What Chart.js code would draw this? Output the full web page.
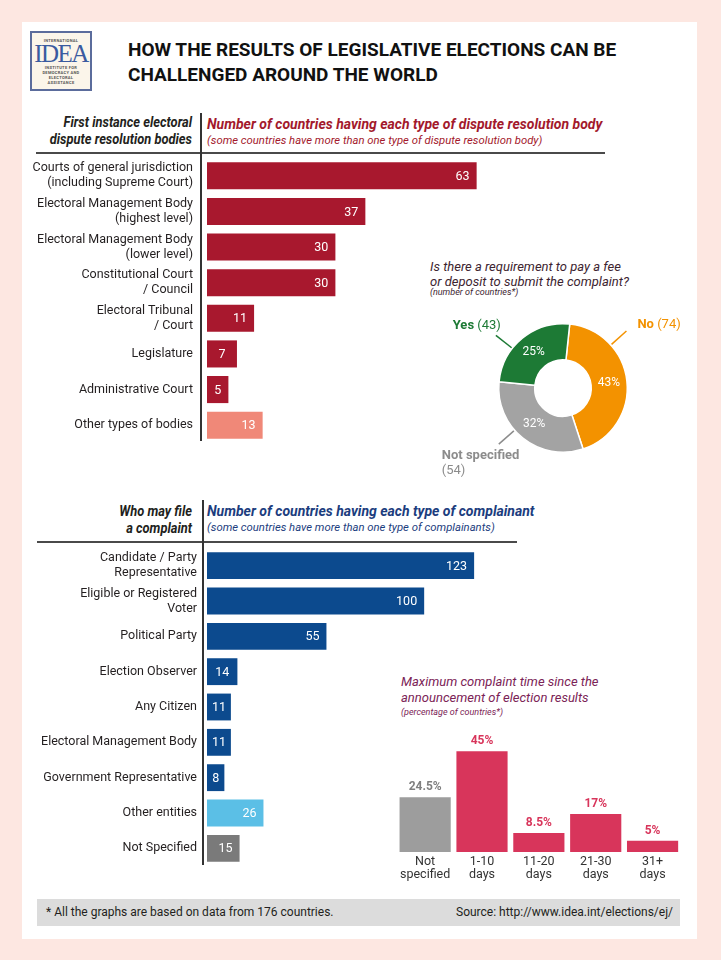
<!DOCTYPE html>
<html>
<head>
<meta charset="utf-8">
<script src="https://cdn.jsdelivr.net/npm/chart.js@4.4.1/dist/chart.umd.min.js"></script>
<style>
  html, body { margin: 0; padding: 0; }
  body { width: 721px; height: 960px; background: #fde7e1; position: relative; overflow: hidden;
         font-family: Roboto, sans-serif; color: #231f20; }
  .abs { position: absolute; }
  #card { left: 22px; top: 22px; width: 675px; height: 917px; background: #fff; }
  #logo { left: 30px; top: 31px; width: 58px; height: 56px; border: 2px solid #5b6c9c; background: #fbf5ea;
          text-align: center; color: #3a5ba0; }
  #logo .tiny { font-size: 4px; line-height: 5px; font-weight: bold; letter-spacing: 0.3px; color: #555; }
  #logo .big { font-family: 'Liberation Serif', serif; font-size: 25px; line-height: 22px; letter-spacing: -1.5px; }
  #title { left: 128px; top: 37px; font-size: 19px; line-height: 25px; font-weight: bold; color: #111; }
  .hdrL { text-align: right; font-weight: bold; font-style: italic; font-size: 14px; line-height: 17px; color: #231f20;
          transform: scaleX(0.92); transform-origin: right center; }
  .hdrT { font-weight: bold; font-style: italic; font-size: 14px; line-height: 17px; }
  .hdrS { font-style: italic; font-size: 11.3px; line-height: 14px; }
  .rule { background: #4a4a4a; height: 2px; }
  .vline { background: #333; width: 1.5px; }
  .box { position: absolute; }
  #footer { left: 37px; top: 899px; width: 643px; height: 27px; background: #dcdcdc; font-size: 12px; line-height: 27px; }
</style>
</head>
<body>
<div id="card" class="abs"></div>
<div id="logo" class="abs">
  <div class="tiny" style="margin-top:5px">INTERNATIONAL</div>
  <div class="big">IDEA</div>
  <div class="tiny">INSTITUTE FOR<br>DEMOCRACY AND<br>ELECTORAL<br>ASSISTANCE</div>
</div>
<div id="title" class="abs">HOW THE RESULTS OF LEGISLATIVE ELECTIONS CAN BE<br>CHALLENGED AROUND THE WORLD</div>

<!-- section 1 header -->
<div class="abs hdrL" style="left:0;width:192px;top:114px">First instance electoral<br>dispute resolution bodies</div>
<div class="abs hdrT" style="left:207px;top:116px;color:#a3192c">Number of countries having each type of dispute resolution body</div>
<div class="abs hdrS" style="left:207px;top:134px;color:#a3192c">(some countries have more than one type of dispute resolution body)</div>
<div class="abs rule" style="left:36px;top:152px;width:569px"></div>
<div class="abs vline" style="left:200px;top:113px;height:328px"></div>

<!-- section 2 header -->
<div class="abs hdrL" style="left:0;width:192px;top:503px">Who may file<br>a complaint</div>
<div class="abs hdrT" style="left:207px;top:503px;color:#1c3d7e">Number of countries having each type of complainant</div>
<div class="abs hdrS" style="left:207px;top:521px;color:#1c3d7e">(some countries have more than one type of complainants)</div>
<div class="abs rule" style="left:37px;top:541px;width:480px"></div>
<div class="abs vline" style="left:202px;top:500px;height:365px"></div>

<!-- donut heading -->
<div class="abs" style="left:430px;top:259px;font-style:italic;font-size:13px;line-height:15px;color:#3d2430">Is there a requirement to pay a fee<br>or deposit to submit the complaint?</div>
<div class="abs" style="left:430px;top:287px;font-style:italic;font-size:9px;line-height:11px;color:#3d2430">(number of countries*)</div>

<!-- time heading -->
<div class="abs" style="left:401px;top:674px;font-style:italic;font-size:13px;line-height:15.5px;color:#7b2356">Maximum complaint time since the<br>announcement of election results</div>
<div class="abs" style="left:401px;top:707px;font-style:italic;font-size:9px;line-height:11px;color:#7b2356">(percentage of countries*)</div>

<div class="box" style="left:30px;top:158px;width:605px;height:285px"><canvas id="bodies"></canvas></div>
<div class="box" style="left:30px;top:548px;width:607px;height:318px"><canvas id="complainants"></canvas></div>
<div class="box" style="left:420px;top:310px;width:280px;height:170px"><canvas id="fee"></canvas></div>
<div class="box" style="left:396px;top:720px;width:285px;height:162px"><canvas id="time"></canvas></div>

<div id="footer" class="abs">
  <span style="position:absolute;left:9px">* All the graphs are based on data from 176 countries.</span>
  <span style="position:absolute;right:7px">Source: http://www.idea.int/elections/ej/</span>
</div>

<script>
'use strict';

// ---- data ----
const bodyLabels = [
    ['Courts of general jurisdiction', '(including Supreme Court)'],
    ['Electoral Management Body', '(highest level)'],
    ['Electoral Management Body', '(lower level)'],
    ['Constitutional Court', '/ Council'],
    ['Electoral Tribunal', '/ Court'],
    'Legislature',
    'Administrative Court',
    'Other types of bodies'
];
const bodyCounts = [63, 37, 30, 30, 11, 7, 5, 13];

const complainantLabels = [
    ['Candidate / Party', 'Representative'],
    ['Eligible or Registered', 'Voter'],
    'Political Party',
    'Election Observer',
    'Any Citizen',
    'Electoral Management Body',
    'Government Representative',
    'Other entities',
    'Not Specified'
];
const complainantCounts = [123, 100, 55, 14, 11, 11, 8, 26, 15];

const feeLabels = ['No', 'Not specified', 'Yes'];
const feeCounts = [74, 54, 43];

const timeLabels = [['Not', 'specified'], ['1-10', 'days'], ['11-20', 'days'], ['21-30', 'days'], ['31+', 'days']];
const timeShares = [24.5, 45, 8.5, 17, 5];

// ---- styles ----
const RED = '#a8182e', NAVY = '#0c4a8e', CRIMSON = '#d8355b', GREY = '#9d9d9d';
const bodyColors = [RED, RED, RED, RED, RED, RED, RED, '#f08878'];
const complainantColors = [NAVY, NAVY, NAVY, NAVY, NAVY, NAVY, NAVY, '#5bbfe6', '#7a7a7a'];
const feeColors = ['#f39200', '#a3a3a3', '#1d7a35'];
const timeColors = [GREY, CRIMSON, CRIMSON, CRIMSON, CRIMSON];
const timeTextColors = ['#7f7f7f', CRIMSON, CRIMSON, CRIMSON, CRIMSON];
const LABEL_FONT = "Roboto, sans-serif";

// white number inside each horizontal bar
const barValueLabels = {
    id: 'barValueLabels',
    afterDatasetsDraw(chart) {
        const ctx = chart.ctx;
        const meta = chart.getDatasetMeta(0);
        const data = chart.data.datasets[0].data;
        ctx.save();
        ctx.font = '12.5px ' + LABEL_FONT;
        ctx.fillStyle = '#fff';
        ctx.textBaseline = 'middle';
        meta.data.forEach((bar, i) => {
            let w = bar.x - bar.base;
            if (w < 32) {
                ctx.textAlign = 'center';
                ctx.fillText(data[i], (bar.x + bar.base) / 2, bar.y + 1);
            } else {
                ctx.textAlign = 'right';
                ctx.fillText(data[i], bar.x - 7, bar.y + 1);
            }
        });
        ctx.restore();
    }
};

function hbar(id, labels, values, colors, xmax, pad) {
    return new Chart(id, {
        type: 'bar',
        data: {
            labels: labels,
            datasets: [{ data: values, backgroundColor: colors, barPercentage: 0.76, categoryPercentage: 1 }]
        },
        options: {
            indexAxis: 'y',
            responsive: true,
            maintainAspectRatio: false,
            animation: false,
            layout: { autoPadding: false, padding: 0 },
            plugins: { legend: { display: false }, tooltip: { enabled: false } },
            scales: {
                x: { display: false, min: 0, max: xmax },
                y: {
                    grid: { display: false, drawTicks: false },
                    border: { display: false },
                    afterFit(scale) {
                        scale.width = 177;
                        scale.paddingTop = 0;
                        scale.paddingBottom = 0;
                    },
                    ticks: { color: '#231f20', padding: pad, font: { family: LABEL_FONT, size: 12.5, lineHeight: 1.2 } }
                }
            }
        },
        plugins: [barValueLabels]
    });
}

hbar('bodies', bodyLabels, bodyCounts, bodyColors, 100, 14);
hbar('complainants', complainantLabels, complainantCounts, complainantColors, 198, 10);

// percentages and callouts around the doughnut
const feeCallouts = [
    { at: 0.27, color: '#f39200', side: 'left', dx: 11, dy: -6 },
    { at: 0.59, color: '#8c8c8c', side: 'left', dx: -57, dy: 12, wrap: true },
    { at: 0.36, color: '#1d7a35', side: 'right', dx: 5, dy: -10 }
];

const donutLabels = {
    id: 'donutLabels',
    afterDatasetsDraw(chart) {
        const ctx = chart.ctx;
        const meta = chart.getDatasetMeta(0);
        const data = chart.data.datasets[0].data;
        const total = data.reduce((a, b) => a + b, 0);
        ctx.save();
        meta.data.forEach((arc, i) => {
            let p = arc.tooltipPosition();
            ctx.font = '12px ' + LABEL_FONT;
            ctx.fillStyle = '#fff';
            ctx.textAlign = 'center';
            ctx.textBaseline = 'middle';
            ctx.fillText(Math.round(data[i] / total * 100) + '%', p.x, p.y);

            let c = feeCallouts[i];
            let a = arc.startAngle + (arc.endAngle - arc.startAngle) * c.at;
            let r0 = arc.outerRadius + 1, r1 = arc.outerRadius + 21;
            let x1 = arc.x + Math.cos(a) * r1, y1 = arc.y + Math.sin(a) * r1;
            ctx.strokeStyle = c.color;
            ctx.lineWidth = 1.5;
            ctx.beginPath();
            ctx.moveTo(arc.x + Math.cos(a) * r0, arc.y + Math.sin(a) * r0);
            ctx.lineTo(x1, y1);
            ctx.stroke();

            let head = chart.data.labels[i];
            let tail = '(' + data[i] + ')';
            ctx.fillStyle = c.color;
            ctx.textAlign = 'left';
            ctx.font = 'bold 13px ' + LABEL_FONT;
            let wHead = ctx.measureText(head + ' ').width;
            ctx.font = '13px ' + LABEL_FONT;
            let wTail = ctx.measureText(tail).width;
            let tx = c.side === 'right' ? x1 + c.dx - (wHead + wTail) : x1 + c.dx;
            let ty = y1 + c.dy;
            ctx.font = 'bold 13px ' + LABEL_FONT;
            ctx.fillText(head, tx, ty);
            ctx.font = '13px ' + LABEL_FONT;
            if (c.wrap) {
                ctx.fillText(tail, tx, ty + 15);
            } else {
                ctx.fillText(tail, tx + wHead, ty);
            }
        });
        ctx.restore();
    }
};

new Chart('fee', {
    type: 'doughnut',
    data: {
        labels: feeLabels,
        datasets: [{ data: feeCounts, backgroundColor: feeColors, borderColor: '#fff', borderWidth: 1.5 }]
    },
    options: {
        responsive: true,
        maintainAspectRatio: false,
        animation: false,
        rotation: 6,
        cutout: '44%',
        layout: { padding: { left: 78, right: 72, top: 13, bottom: 27 } },
        plugins: { legend: { display: false }, tooltip: { enabled: false } }
    },
    plugins: [donutLabels]
});

// value on top of each column
const columnValueLabels = {
    id: 'columnValueLabels',
    afterDatasetsDraw(chart) {
        const ctx = chart.ctx;
        const meta = chart.getDatasetMeta(0);
        const data = chart.data.datasets[0].data;
        ctx.save();
        ctx.font = 'bold 12px ' + LABEL_FONT;
        ctx.textAlign = 'center';
        ctx.textBaseline = 'middle';
        meta.data.forEach((bar, i) => {
            ctx.fillStyle = timeTextColors[i];
            ctx.fillText(data[i] + '%', bar.x, bar.y - 10);
        });
        ctx.restore();
    }
};

new Chart('time', {
    type: 'bar',
    data: {
        labels: timeLabels,
        datasets: [{ data: timeShares, backgroundColor: timeColors, barPercentage: 0.9, categoryPercentage: 1 }]
    },
    options: {
        responsive: true,
        maintainAspectRatio: false,
        animation: false,
        plugins: { legend: { display: false }, tooltip: { enabled: false } },
        scales: {
            y: { display: false, min: 0, max: 59 },
            x: {
                grid: { display: false, drawTicks: false },
                border: { display: false },
                afterFit(scale) { scale.height = 30; },
                ticks: { color: '#333', padding: 4, maxRotation: 0, font: { family: LABEL_FONT, size: 12.5, lineHeight: 1.0 } }
            }
        }
    },
    plugins: [columnValueLabels]
});
</script>
</body>
</html>
